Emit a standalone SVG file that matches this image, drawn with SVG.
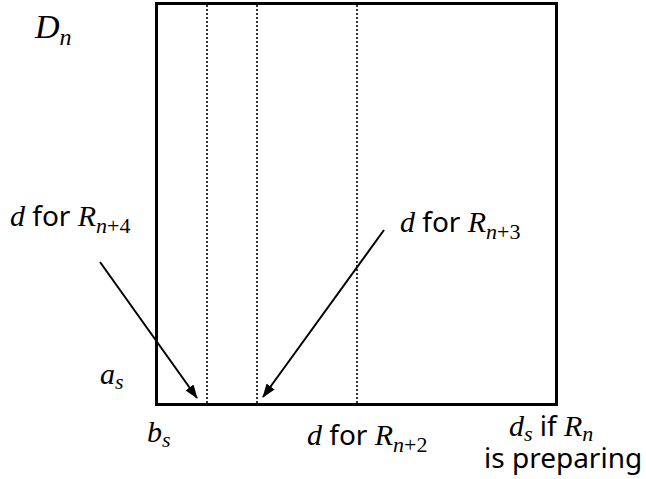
<svg xmlns="http://www.w3.org/2000/svg" width="646" height="479" viewBox="0 0 646 479">
<style>
.m{font-family:"Liberation Serif",serif;font-style:italic;font-size:30px;fill:#000}
.sub{font-family:"Liberation Serif",serif;font-style:italic;font-size:22px}
.subn{font-family:"Liberation Serif",serif;font-style:normal;font-size:22px}
.t{font-family:"Noto Sans","Liberation Sans",sans-serif;font-size:28px;fill:#000}
.dot{stroke:#000;stroke-width:1.6;stroke-dasharray:2 2;fill:none}
.arr{stroke:#000;stroke-width:2;fill:none;marker-end:url(#ah)}
</style>
<defs>
<marker id="ah" viewBox="0 0 14 10" refX="13" refY="5" markerWidth="14" markerHeight="10" markerUnits="userSpaceOnUse" orient="auto">
<path d="M0,0 L14,5 L0,10 z" fill="#000"/>
</marker>
</defs>
<rect width="646" height="479" fill="#fff"/>
<g id="box">
<rect x="156.5" y="3.5" width="400" height="401" fill="none" stroke="#000" stroke-width="3"/>
</g>
<g id="dividers">
<line class="dot" x1="207" y1="5" x2="207" y2="403"/>
<line class="dot" x1="257" y1="5" x2="257" y2="403"/>
<line class="dot" x1="357" y1="5" x2="357" y2="403"/>
</g>
<g id="connectors">
<line class="arr" x1="100" y1="262" x2="197" y2="398"/>
<line class="arr" x1="384" y1="230" x2="263" y2="397"/>
</g>
<g id="label-Dn"><text class="m" x="35" y="38" style="font-size:34px">D<tspan class="sub" dy="7" style="font-size:24px">n</tspan></text></g>
<g id="label-n4"><text x="10" y="226"><tspan class="m">d</tspan><tspan class="t"> for </tspan><tspan class="m">R</tspan><tspan class="sub" dy="7">n</tspan><tspan class="subn">+4</tspan></text></g>
<g id="label-n3"><text x="400" y="232"><tspan class="m">d</tspan><tspan class="t"> for </tspan><tspan class="m">R</tspan><tspan class="sub" dy="7">n</tspan><tspan class="subn">+3</tspan></text></g>
<g id="label-as"><text class="m" x="100" y="384">a<tspan class="sub" dy="5">s</tspan></text></g>
<g id="label-bs"><text class="m" x="147" y="442">b<tspan class="sub" dy="5">s</tspan></text></g>
<g id="label-n2"><text x="307" y="445"><tspan class="m">d</tspan><tspan class="t"> for </tspan><tspan class="m">R</tspan><tspan class="sub" dy="7">n</tspan><tspan class="subn">+2</tspan></text></g>
<g id="label-ds">
<text x="509" y="436"><tspan class="m">d</tspan><tspan class="sub" dy="5">s</tspan><tspan class="t" dy="-5"> if </tspan><tspan class="m">R</tspan><tspan class="sub" dy="5">n</tspan></text>
<text class="t" x="484" y="468">is preparing</text>
</g>
</svg>
